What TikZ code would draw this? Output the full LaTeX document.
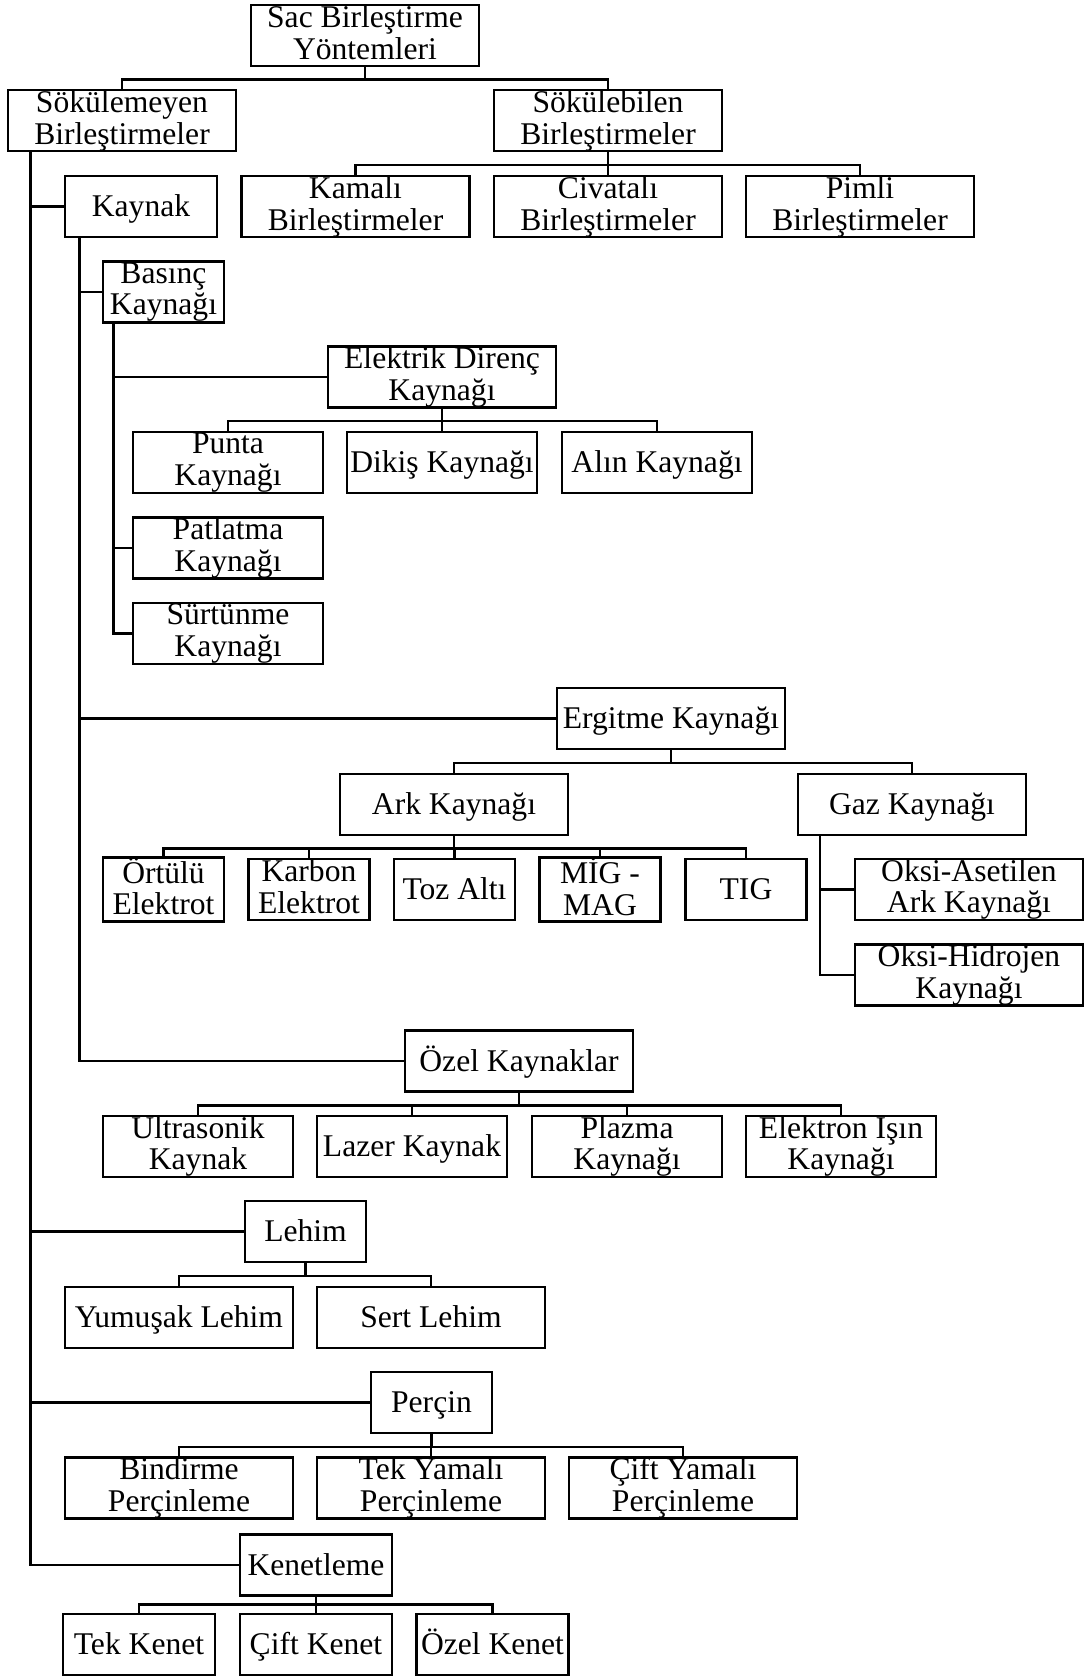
\documentclass[tikz,border=0pt]{standalone}
\usepackage{fontspec}
\setmainfont{Liberation Serif}
\usepackage{tikz}
\usetikzlibrary{calc}
\newcommand{\boxfont}{\fontsize{15.8}{15.9}\selectfont\lineskiplimit=-20pt\relax}
\newcommand{\boxstrut}{\leavevmode\vrule height 13.4pt depth 3.3pt width 0pt\relax}

\begin{document}
\begin{tikzpicture}[x=0.5pt,y=-0.5pt,line width=1.3pt,
  box/.style={draw,line width=1.3pt,inner sep=0pt,align=center,minimum height=30.5pt,
    font=\boxfont,execute at begin node=\boxstrut,execute at end node=\boxstrut},
  boxs/.style={box,minimum width=60.5pt},
  boxm/.style={box,minimum width=76pt},
  boxl/.style={box,minimum width=95pt},
  boxxl/.style={box,minimum width=114pt}]
\useasboundingbox (0,0) rectangle (1090,1677);

\node[boxxl] (root) at (365,35.5) {Sac Birleştirme\\Yöntemleri};
\node[boxxl] (sokme) at (122,120.5) {Sökülemeyen\\Birleştirmeler};
\node[boxxl] (sokbil) at (608,120.5) {Sökülebilen\\Birleştirmeler};
\node[boxxl] (kamali) at (355.5,206.5) {Kamalı\\Birleştirmeler};
\node[boxxl] (civatali) at (608,206.5) {Civatalı\\Birleştirmeler};
\node[boxxl] (pimli) at (860,206.5) {Pimli\\Birleştirmeler};

\node[boxm] (kaynak) at (141,206.5) {Kaynak};
\node[boxs] (basinc) at (163.5,292) {Basınç\\Kaynağı};
\node[boxxl] (elektrik) at (442,377) {Elektrik Direnç\\Kaynağı};
\node[boxl] (punta) at (228,462.5) {Punta\\Kaynağı};
\node[boxl] (dikis) at (442,462.5) {Dikiş Kaynağı};
\node[boxl] (alin) at (657,462.5) {Alın Kaynağı};
\node[boxl] (patlatma) at (228,548) {Patlatma\\Kaynağı};
\node[boxl] (surtunme) at (228,633.5) {Sürtünme\\Kaynağı};

\node[boxxl] (ergitme) at (671,718.5) {Ergitme Kaynağı};
\node[boxxl] (ark) at (454,804.5) {Ark Kaynağı};
\node[boxxl] (gaz) at (912,804.5) {Gaz Kaynağı};
\node[boxs] (ortulu) at (163.5,889.5) {Örtülü\\Elektrot};
\node[boxs] (karbon) at (309,889.5) {Karbon\\Elektrot};
\node[boxs] (toz) at (454.5,889.5) {Toz Altı};
\node[boxs] (mig) at (600,889.5) {MİG -\\MAG};
\node[boxs] (tig) at (746,889.5) {TIG};
\node[boxxl] (oksias) at (969,889.5) {Oksi-Asetilen\\Ark Kaynağı};
\node[boxxl] (oksihid) at (969,975) {Oksi-Hidrojen\\Kaynağı};

\node[boxxl] (ozel) at (519,1061) {Özel Kaynaklar};
\node[boxl] (ultra) at (198,1146.5) {Ultrasonik\\Kaynak};
\node[boxl] (lazer) at (412,1146.5) {Lazer Kaynak};
\node[boxl] (plazma) at (627,1146.5) {Plazma\\Kaynağı};
\node[boxl] (elektron) at (841,1146.5) {Elektron Işın\\Kaynağı};

\node[boxs] (lehim) at (305.5,1231.5) {Lehim};
\node[boxxl] (yumusak) at (179,1317.5) {Yumuşak Lehim};
\node[boxxl] (sert) at (431,1317.5) {Sert Lehim};

\node[boxs] (percin) at (431.5,1402.5) {Perçin};
\node[boxxl] (bindirme) at (179,1488) {Bindirme\\Perçinleme};
\node[boxxl] (tekyama) at (431,1488) {Tek Yamalı\\Perçinleme};
\node[boxxl] (ciftyama) at (683,1488) {Çift Yamalı\\Perçinleme};

\node[boxm] (kenetleme) at (316,1565) {Kenetleme};
\node[boxm] (tekkenet) at (139,1644.5) {Tek Kenet};
\node[boxm] (ciftkenet) at (316,1644.5) {Çift Kenet};
\node[boxm] (ozelkenet) at (492.5,1644.5) {Özel Kenet};

\foreach \c in {sokme,sokbil} \draw (root.south) -- ++(0,12) -| (\c.north);
\foreach \c in {kamali,civatali,pimli} \draw (sokbil.south) -- ++(0,12.5) -| (\c.north);
\foreach \c in {punta,dikis,alin} \draw (elektrik.south) -- ++(0,12) -| (\c.north);
\foreach \c in {ark,gaz} \draw (ergitme.south) -- ++(0,12.5) -| (\c.north);
\foreach \c in {ortulu,karbon,toz,mig,tig} \draw (ark.south) -- ++(0,12) -| (\c.north);
\foreach \c in {ultra,lazer,plazma,elektron} \draw (ozel.south) -- ++(0,12.5) -| (\c.north);
\foreach \c in {yumusak,sert} \draw (lehim.south) -- ++(0,12.5) -| (\c.north);
\foreach \c in {bindirme,tekyama,ciftyama} \draw (percin.south) -- ++(0,12.5) -| (\c.north);
\foreach \c in {tekkenet,ciftkenet,ozelkenet} \draw (kenetleme.south) -- ++(0,7.5) -| (\c.north);

\foreach \c in {kaynak,lehim,percin,kenetleme} \draw ($(sokme.south west)+(23.6,0)$) |- (\c.west);
\foreach \c in {basinc,ergitme,ozel} \draw ($(kaynak.south west)+(15.6,0)$) |- (\c.west);
\foreach \c in {elektrik,patlatma,surtunme} \draw ($(basinc.south west)+(12,0)$) |- (\c.west);
\foreach \c in {oksias,oksihid} \draw ($(gaz.south west)+(23.3,0)$) |- (\c.west);
\end{tikzpicture}
\end{document}
